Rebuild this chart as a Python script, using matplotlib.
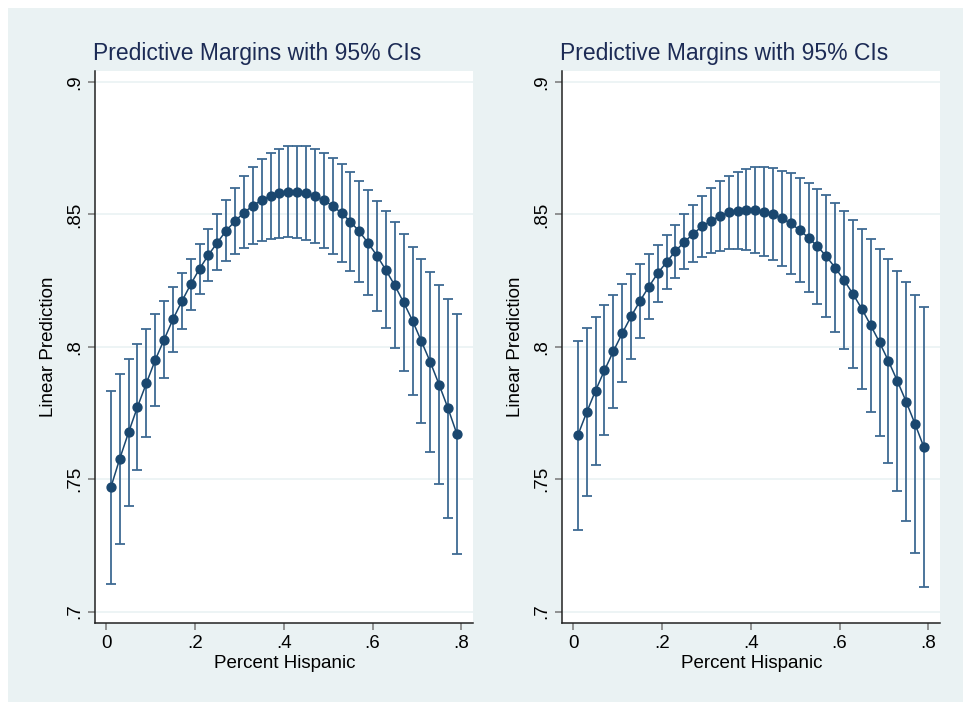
import matplotlib
matplotlib.use("Agg")
import matplotlib.pyplot as plt
from matplotlib.patches import Rectangle
import numpy as np

plt.rcParams['font.family'] = ['Liberation Sans', 'DejaVu Sans']

# x grid of the margins: .01 to .79 in steps of .02
pct_hispanic = [0.01, 0.03, 0.05, 0.07, 0.09, 0.11, 0.13, 0.15, 0.17, 0.19,
                0.21, 0.23, 0.25, 0.27, 0.29, 0.31, 0.33, 0.35, 0.37, 0.39,
                0.41, 0.43, 0.45, 0.47, 0.49, 0.51, 0.53, 0.55, 0.57, 0.59,
                0.61, 0.63, 0.65, 0.67, 0.69, 0.71, 0.73, 0.75, 0.77, 0.79]

# left panel
left_margin = [0.7469, 0.7577, 0.7677, 0.7773, 0.7862, 0.7950, 0.8027, 0.8104, 0.8172, 0.8236,
               0.8295, 0.8347, 0.8394, 0.8439, 0.8475, 0.8507, 0.8533, 0.8555, 0.8571, 0.8581,
               0.8586, 0.8586, 0.8581, 0.8570, 0.8553, 0.8533, 0.8505, 0.8473, 0.8436, 0.8392,
               0.8344, 0.8290, 0.8232, 0.8168, 0.8099, 0.8021, 0.7943, 0.7857, 0.7768, 0.7671]
left_lo = [0.7104, 0.7257, 0.7400, 0.7534, 0.7660, 0.7777, 0.7884, 0.7982, 0.8067, 0.8140,
           0.8201, 0.8250, 0.8291, 0.8323, 0.8349, 0.8372, 0.8388, 0.8401, 0.8408, 0.8413,
           0.8415, 0.8411, 0.8405, 0.8391, 0.8373, 0.8349, 0.8322, 0.8288, 0.8245, 0.8195,
           0.8137, 0.8070, 0.7994, 0.7910, 0.7817, 0.7714, 0.7603, 0.7482, 0.7354, 0.7218]
left_hi = [0.7833, 0.7896, 0.7954, 0.8012, 0.8067, 0.8123, 0.8173, 0.8226, 0.8278, 0.8333,
           0.8388, 0.8445, 0.8502, 0.8553, 0.8601, 0.8644, 0.8680, 0.8709, 0.8732, 0.8748,
           0.8758, 0.8760, 0.8758, 0.8748, 0.8734, 0.8714, 0.8689, 0.8659, 0.8626, 0.8591,
           0.8551, 0.8512, 0.8470, 0.8425, 0.8378, 0.8333, 0.8284, 0.8232, 0.8179, 0.8124]

# right panel
right_margin = [0.7666, 0.7753, 0.7835, 0.7911, 0.7983, 0.8051, 0.8115, 0.8173, 0.8227, 0.8278,
                0.8320, 0.8362, 0.8396, 0.8427, 0.8455, 0.8476, 0.8494, 0.8508, 0.8515, 0.8518,
                0.8517, 0.8511, 0.8500, 0.8485, 0.8466, 0.8441, 0.8412, 0.8380, 0.8342, 0.8299,
                0.8252, 0.8200, 0.8144, 0.8082, 0.8017, 0.7947, 0.7872, 0.7793, 0.7709, 0.7621]
right_lo = [0.7310, 0.7437, 0.7554, 0.7666, 0.7770, 0.7866, 0.7954, 0.8035, 0.8106, 0.8168,
            0.8220, 0.8261, 0.8295, 0.8320, 0.8340, 0.8353, 0.8363, 0.8368, 0.8368, 0.8364,
            0.8356, 0.8343, 0.8327, 0.8304, 0.8276, 0.8245, 0.8206, 0.8162, 0.8113, 0.8055,
            0.7991, 0.7919, 0.7841, 0.7755, 0.7663, 0.7563, 0.7457, 0.7342, 0.7223, 0.7093]
right_hi = [0.8023, 0.8070, 0.8114, 0.8157, 0.8197, 0.8237, 0.8275, 0.8312, 0.8349, 0.8386,
            0.8424, 0.8461, 0.8500, 0.8537, 0.8570, 0.8599, 0.8625, 0.8646, 0.8661, 0.8672,
            0.8679, 0.8680, 0.8674, 0.8666, 0.8655, 0.8639, 0.8619, 0.8597, 0.8572, 0.8544,
            0.8513, 0.8480, 0.8445, 0.8408, 0.8370, 0.8331, 0.8288, 0.8244, 0.8197, 0.8149]

x_ticks = [0, 0.2, 0.4, 0.6, 0.8]
x_labels = ['0', '.2', '.4', '.6', '.8']
y_ticks = [0.7, 0.75, 0.8, 0.85, 0.9]
y_labels = ['.7', '.75', '.8', '.85', '.9']

bg = '#EAF2F3'
navy = '#1A476F'
bar_col = '#3E6A93'
title_col = '#1C2B55'

fig = plt.figure(figsize=(9.63, 7.02), dpi=100, facecolor='white')
# stata style graph region (white strip at top/left)
fig.patches.append(Rectangle((8/963, 0), 1 - 8/963, 694/702, transform=fig.transFigure,
                             facecolor=bg, edgecolor='none', zorder=-5))

panels = [(left_margin, left_lo, left_hi, 95.3), (right_margin, right_lo, right_hi, 562.3)]

for margin, lo, hi, x0 in panels:
    ax = fig.add_axes([x0/963, 79/702, 378/963, 552/702])
    ax.set_facecolor('white')
    m = np.array(margin)
    err = [m - np.array(lo), np.array(hi) - m]
    ax.errorbar(pct_hispanic, margin, yerr=err, fmt='none', ecolor=bar_col,
                elinewidth=1.3, capsize=3.5, capthick=1.3, zorder=2)
    ax.plot(pct_hispanic, margin, color=navy, lw=1.1, marker='o', markersize=6.4,
            markerfacecolor=navy, markeredgecolor=navy, zorder=3)
    ax.set_xlim(-0.025, 0.827)
    ax.set_ylim(0.6957, 0.9042)
    ax.set_xticks(x_ticks)
    ax.set_xticklabels(x_labels)
    ax.set_yticks(y_ticks)
    ax.set_yticklabels(y_labels, rotation=90, va='center')
    ax.grid(axis='y', color=bg, lw=1.2, zorder=1)
    ax.grid(axis='x', visible=False)
    ax.set_axisbelow(True)
    for s in ['top', 'right']:
        ax.spines[s].set_visible(False)
    for s in ['left', 'bottom']:
        ax.spines[s].set_color('#222222')
        ax.spines[s].set_linewidth(1.1)
    ax.tick_params(axis='both', direction='out', length=5, width=1.1, color='#777777',
                   labelsize=13.5, labelcolor='black', pad=4)
    ax.set_xlabel('Percent Hispanic', fontsize=13.5, labelpad=2)
    ax.set_ylabel('Linear Prediction', fontsize=13.5, labelpad=6)
    ax.set_title('Predictive Margins with 95% CIs', loc='left', fontsize=16.5,
                 color=title_col, pad=8, x=-0.006)

fig.savefig('out.png', dpi=100, facecolor=fig.get_facecolor())
